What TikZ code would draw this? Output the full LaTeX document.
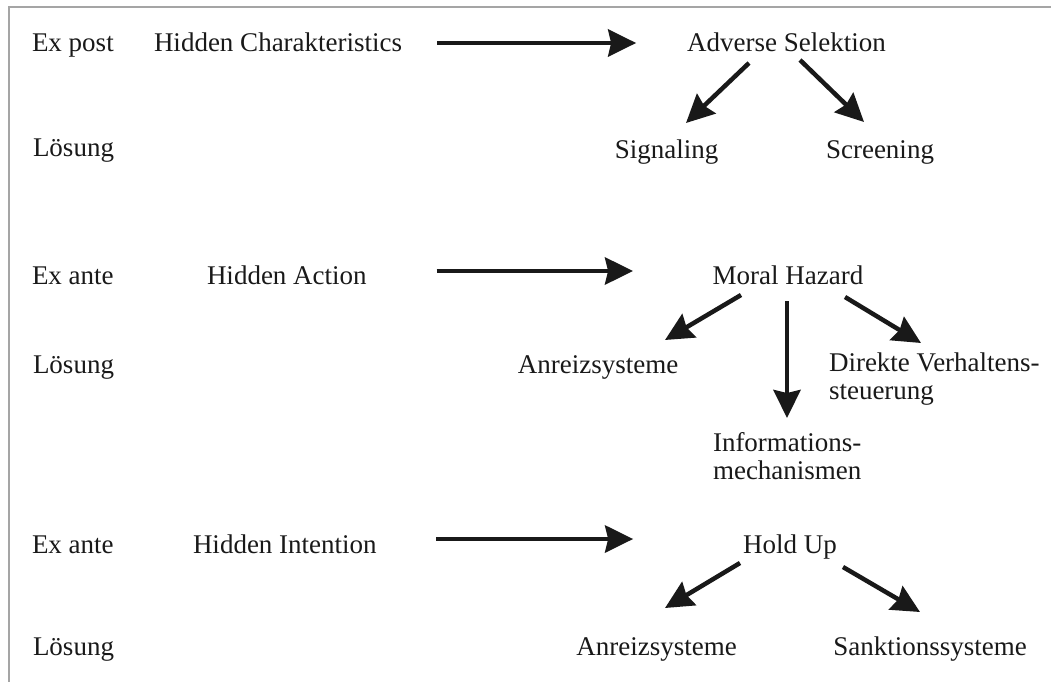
\documentclass[tikz,border=0pt]{standalone}
\usepackage{fontspec}
\setmainfont{Liberation Serif}
\usetikzlibrary{arrows.meta}
\definecolor{framegray}{RGB}{165,165,165}
\definecolor{ink}{RGB}{25,25,25}
\newcommand{\twolines}[2]{\vtop{\baselineskip=28pt\hbox{#1}\hbox{#2}}}
\begin{document}
\begin{tikzpicture}[x=1pt,y=-1pt,
  every node/.style={inner sep=0pt,outer sep=0pt,text=ink,
    font=\fontsize{27}{28}\selectfont},
  lbl/.style={anchor=base west},
  ctr/.style={anchor=base},
  arr/.style={draw=ink,line width=4.5pt,
    -{Stealth[length=28pt,width=27pt,inset=3pt]}}]
\useasboundingbox (0,0) rectangle (1051,682);
% frame
\draw[framegray,line width=1.5pt] (1051,7) -- (9,7) -- (9,682);

% row 1: hidden characteristics
\node[lbl] (ep1) at (32,52) {Ex post};
\node[lbl] (hc) at (154,52) {Hidden Charakteristics};
\node[ctr] (as) at (786.5,52) {Adverse Selektion};
\node[lbl] (l1) at (33,156) {Lösung};
\node[ctr] (sig) at (666.5,158) {Signaling};
\node[ctr] (scr) at (880,158) {Screening};

% row 2: hidden action
\node[lbl] (ea2) at (32,284) {Ex ante};
\node[lbl] (ha) at (207,284) {Hidden Action};
\node[ctr] (mh) at (788,284) {Moral Hazard};
\node[lbl] (l2) at (33,373) {Lösung};
\node[ctr] (anr2) at (598,373) {Anreizsysteme};
\node[lbl] (dvs) at (829,371) {\twolines{Direkte Verhaltens-}{steuerung}};
\node[lbl] (inf) at (713,451) {\twolines{Informations-}{mechanismen}};

% row 3: hidden intention
\node[lbl] (ea3) at (32,553) {Ex ante};
\node[lbl] (hi) at (193,553) {Hidden Intention};
\node[ctr] (hu) at (790,553) {Hold Up};
\node[lbl] (l3) at (33,655) {Lösung};
\node[ctr] (anr3) at (656.5,655) {Anreizsysteme};
\node[ctr] (san) at (930,655) {Sanktionssysteme};

% arrows
\draw[arr] ([shift={(35,-9)}]hc.base east) -- ([shift={(-51,-9)}]as.base west);
\draw[arr] ([shift={(-37.5,11)}]as.base) -- ([shift={(19.5,-35)}]sig.base);
\draw[arr] ([shift={(13.5,8)}]as.base) -- ([shift={(-16,-36)}]scr.base);

\draw[arr] ([shift={(70,-13)}]ha.base east) -- ([shift={(-79.6,-13)}]mh.base west);
\draw[arr] ([shift={(-47,11)}]mh.base) -- ([shift={(67,-33)}]anr2.base);
\draw[arr] ([shift={(-1,17)}]mh.base) -- ([shift={(74,-33)}]inf.base west);
\draw[arr] ([shift={(57,13)}]mh.base) -- ([shift={(92,-28)}]dvs.base west);

\draw[arr] ([shift={(59.3,-14)}]hi.base east) -- ([shift={(-110,-14)}]hu.base west);
\draw[arr] ([shift={(-50,10)}]hu.base) -- ([shift={(8.5,-47)}]anr3.base);
\draw[arr] ([shift={(53,14)}]hu.base) -- ([shift={(-10,-43)}]san.base);
\end{tikzpicture}
\end{document}
